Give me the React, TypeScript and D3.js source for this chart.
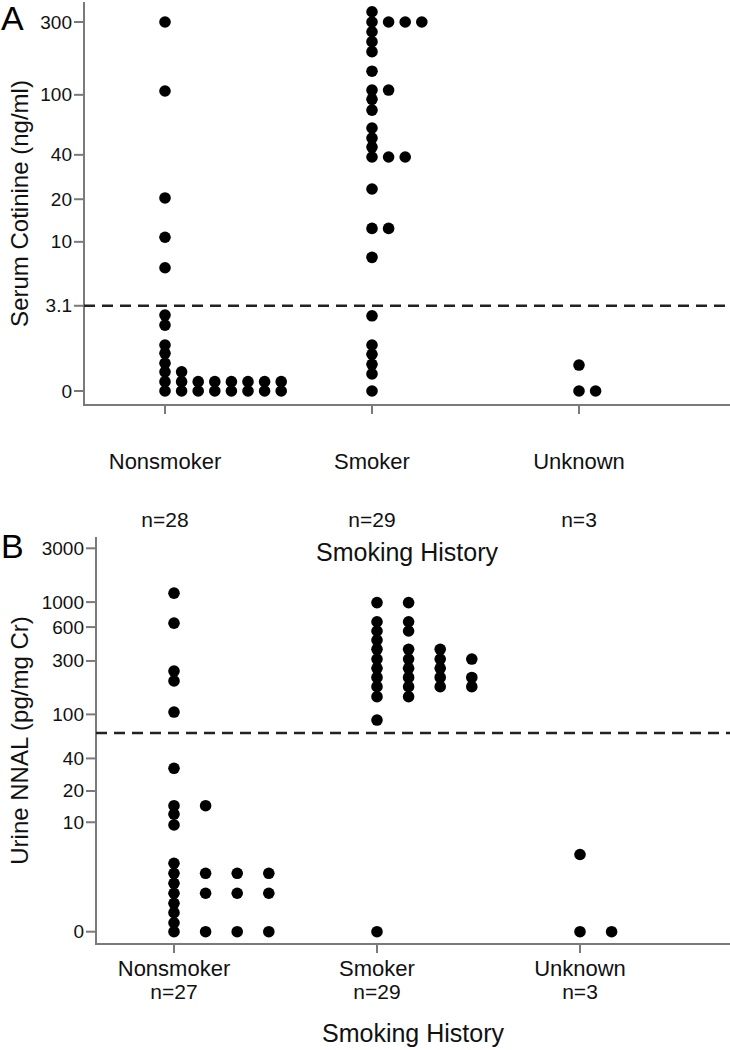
import React from "react";
import * as d3 from "d3";

// ---------- data ----------
const categories = ["Nonsmoker", "Smoker", "Unknown"];
const countLabelsA = ["n=28", "n=29", "n=3"];
const countLabelsB = ["n=27", "n=29", "n=3"];

const ticksA = [0, 3.1, 10, 20, 40, 100, 300];
const ticksB = [0, 10, 20, 40, 100, 300, 600, 1000, 3000];
const thresholdA = 3.1;
const thresholdB = 68;

// Panel A: serum cotinine (ng/ml)
const cotinineNonsmoker = [
  300, 106, 20.4, 10.8, 6.4, 2.54, 2.02, 1.19, 0.91, 0.62,
  0.4, 0.4,
  0.18, 0.18, 0.18, 0.18, 0.18, 0.18, 0.18, 0.18,
  0, 0, 0, 0, 0, 0, 0, 0,
];
const cotinineSmoker = [
  350, 300, 300, 300, 300, 259, 223, 192, 143, 107.5, 107.5, 93.4, 79.3,
  60.4, 51.8, 45.1, 38.7, 38.7, 38.7, 23.5, 12.5, 12.5, 7.68, 2.5,
  1.19, 0.88, 0.59, 0.35, 0,
];
const cotinineUnknown = [0.57, 0, 0];

// Panel B: urine NNAL (pg/mg Cr)
const nnalNonsmoker = [
  1200, 650, 244, 199, 105, 32.5, 14.5, 14.5, 12, 9.4, 3.65,
  2.75, 2.75, 2.75, 2.75, 2.02, 1.43, 1.43, 1.43, 1.43, 0.94, 0.57, 0.24,
  0, 0, 0, 0,
];
const nnalSmoker = [
  990, 990, 669, 669, 554, 554, 460, 381, 381, 381, 312, 312, 312, 312,
  258, 258, 258, 214, 214, 214, 214, 177, 177, 177, 177, 144, 144, 89, 0,
];
const nnalUnknown = [4.6, 0, 0];

const seriesA = [cotinineNonsmoker, cotinineSmoker, cotinineUnknown];
const seriesB = [nnalNonsmoker, nnalSmoker, nnalUnknown];

// ---------- layout ----------
const W = 730;
const H = 1050;
const FONT = "'Liberation Sans', Arial, Helvetica, sans-serif";
const AXIS_COLOR = "#7a7a7a";

type PanelCfg = {
  letter: string;
  yTitle: string;
  ticks: number[];
  tickFmt: (v: number) => string;
  threshold: number;
  series: number[][];
  counts: string[];
  axisX: number;
  axisTop: number;
  axisY: number;
  zeroY: number;
  topVal: number;
  topY: number;
  catRange: [number, number];
  spacing: number;
  catLabelY: number;
  countY: number;
  titleY: number;
  letterY: number;
};

function Panel({ cfg }: { cfg: PanelCfg }) {
  const y = d3
    .scaleSymlog()
    .constant(1.2)
    .domain([0, cfg.topVal])
    .range([cfg.zeroY, cfg.topY]);
  const x = d3.scalePoint<string>().domain(categories).range(cfg.catRange);
  const r = 5.8;

  const dots: { cx: number; cy: number; key: string }[] = [];
  categories.forEach((cat, gi) => {
    const seen = new Map<number, number>();
    cfg.series[gi].forEach((v, i) => {
      const k = seen.get(v) || 0;
      seen.set(v, k + 1);
      dots.push({ cx: (x(cat) as number) + k * cfg.spacing, cy: y(v), key: `${cat}-${i}` });
    });
  });

  const yMid = (cfg.axisTop + cfg.axisY) / 2;
  const xMid = (cfg.axisX + W) / 2;

  return (
    <g>
      <text x={1} y={cfg.letterY} fontFamily={FONT} fontSize={34} fill="#000">
        {cfg.letter}
      </text>
      {/* y axis */}
      <line x1={cfg.axisX} x2={cfg.axisX} y1={cfg.axisTop} y2={cfg.axisY} stroke={AXIS_COLOR} strokeWidth={2} />
      {cfg.ticks.map((t) => (
        <g key={t}>
          <line x1={cfg.axisX - 10} x2={cfg.axisX} y1={y(t)} y2={y(t)} stroke={AXIS_COLOR} strokeWidth={2} />
          <text
            x={cfg.axisX - 12}
            y={y(t)}
            textAnchor="end"
            dominantBaseline="central"
            fontFamily={FONT}
            fontSize={19}
            fill="#111"
          >
            {cfg.tickFmt(t)}
          </text>
        </g>
      ))}
      {/* x axis */}
      <line x1={cfg.axisX - 1} x2={W} y1={cfg.axisY} y2={cfg.axisY} stroke={AXIS_COLOR} strokeWidth={2} />
      {categories.map((c, i) => (
        <g key={c}>
          <line x1={x(c)} x2={x(c)} y1={cfg.axisY} y2={cfg.axisY + 9} stroke={AXIS_COLOR} strokeWidth={2} />
          <text x={x(c)} y={cfg.catLabelY} textAnchor="middle" dominantBaseline="central" fontFamily={FONT} fontSize={22} fill="#111">
            {c}
          </text>
          <text x={x(c)} y={cfg.countY} textAnchor="middle" dominantBaseline="central" fontFamily={FONT} fontSize={21} fill="#111">
            {cfg.counts[i]}
          </text>
        </g>
      ))}
      {/* threshold */}
      <line
        x1={cfg.axisX}
        x2={W}
        y1={y(cfg.threshold)}
        y2={y(cfg.threshold)}
        stroke="#222"
        strokeWidth={2.6}
        strokeDasharray="11,7"
      />
      {/* dots */}
      {dots.map((d) => (
        <circle key={d.key} cx={d.cx} cy={d.cy} r={r} fill="#000" />
      ))}
      {/* titles */}
      <text x={xMid} y={cfg.titleY} textAnchor="middle" dominantBaseline="central" fontFamily={FONT} fontSize={25} fill="#111">
        Smoking History
      </text>
      <text
        transform={`translate(19,${yMid}) rotate(-90)`}
        textAnchor="middle"
        dominantBaseline="central"
        fontFamily={FONT}
        fontSize={24}
        fill="#111"
      >
        {cfg.yTitle}
      </text>
    </g>
  );
}

const panelA: PanelCfg = {
  letter: "A",
  yTitle: "Serum Cotinine (ng/ml)",
  ticks: ticksA,
  tickFmt: (v) => String(v),
  threshold: thresholdA,
  series: seriesA,
  counts: countLabelsA,
  axisX: 84,
  axisTop: 2,
  axisY: 405,
  zeroY: 391,
  topVal: 300,
  topY: 22,
  catRange: [165, 579],
  spacing: 16.6,
  catLabelY: 461,
  countY: 519,
  titleY: 552,
  letterY: 30,
};

const panelB: PanelCfg = {
  letter: "B",
  yTitle: "Urine NNAL (pg/mg Cr)",
  ticks: ticksB,
  tickFmt: (v) => String(v),
  threshold: thresholdB,
  series: seriesB,
  counts: countLabelsB,
  axisX: 96,
  axisTop: 537,
  axisY: 944,
  zeroY: 931.7,
  topVal: 3000,
  topY: 548.3,
  catRange: [174, 580],
  spacing: 31.6,
  catLabelY: 968,
  countY: 991,
  titleY: 1033,
  letterY: 558,
};

export default function App() {
  return (
    <svg
      width={W}
      height={H}
      viewBox={`0 0 ${W} ${H}`}
      style={{ position: "absolute", left: 0, top: 0, background: "#fff" }}
    >
      <rect width={W} height={H} fill="#fff" />
      <Panel cfg={panelA} />
      <Panel cfg={panelB} />
    </svg>
  );
}
